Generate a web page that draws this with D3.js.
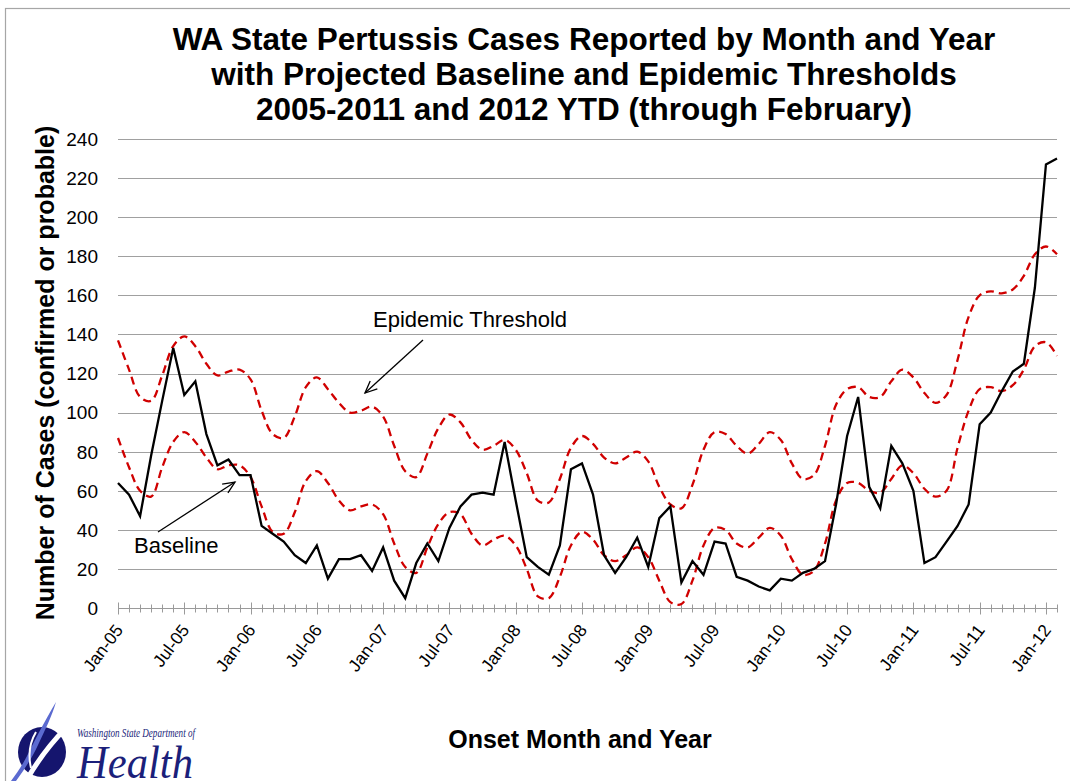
<!DOCTYPE html>
<html>
<head>
<meta charset="utf-8">
<script src="https://cdn.jsdelivr.net/npm/d3@7"></script>
<style>
  html, body { margin: 0; padding: 0; background: #fff; }
  svg { display: block; font-family: "Liberation Sans", Arial, sans-serif; }
</style>
</head>
<body>
<svg id="chart" width="1070" height="781"></svg>
<script>
// ---------------- data ----------------
const years = ["05", "06", "07", "08", "09", "10", "11", "12"];
const monthNames = ["Jan","Feb","Mar","Apr","May","Jun","Jul","Aug","Sep","Oct","Nov","Dec"];
const monthsInLastYear = 2; // 2012 YTD through February

// Reported cases per month, Jan-05 .. Feb-12
const cases = [
  64, 58, 47, 78, 106, 133, 109, 116, 89, 73, 76, 68,
  68, 42, 38, 34, 27, 23, 32, 15, 25, 25, 27, 19,
  31, 14, 5, 23, 33, 24, 41, 52, 58, 59, 58, 85,
  55, 26, 21, 17, 32, 71, 74, 58, 27, 18, 26, 36,
  21, 46, 52, 13, 24, 17, 34, 33, 16, 14, 11, 9,
  15, 14, 18, 20, 24, 53, 88, 108, 62, 51, 83, 74,
  60, 23, 26, 34, 42, 53, 94, 100, 111, 121, 125, 164,
  227, 230
];

// Projected epidemic threshold
const epidemic = [
  137, 122, 108, 106, 119, 134, 139, 134, 125, 119, 121, 122,
  117, 101, 89, 87, 98, 113, 118, 112, 105, 100, 101, 103,
  98, 83, 70, 67, 79, 92, 99, 95, 86, 81, 83, 86,
  81, 69, 55, 54, 66, 82, 88, 84, 77, 74, 77, 80,
  75, 62, 53, 51, 63, 81, 90, 89, 83, 79, 84, 90,
  86, 74, 66, 68, 83, 104, 112, 113, 108, 108, 116, 122,
  118, 110, 105, 109, 127, 149, 160, 162, 161, 163, 170, 181,
  185, 181
];

// Projected baseline
const baseline = [
  87, 72, 60, 57, 72, 85, 90, 85, 77, 71, 73, 73,
  67, 52, 39, 38, 49, 65, 70, 64, 55, 50, 52, 53,
  48, 33, 21, 18, 31, 43, 49, 48, 38, 32, 35, 37,
  32, 20, 6, 5, 16, 32, 39, 35, 27, 24, 27, 31,
  26, 14, 3, 2, 14, 32, 41, 40, 33, 31, 36, 41,
  37, 25, 17, 19, 33, 55, 64, 64, 60, 59, 66, 73,
  69, 61, 57, 60, 82, 101, 112, 113, 111, 114, 122, 134,
  136, 129
];

const yTicks = [0, 20, 40, 60, 80, 100, 120, 140, 160, 180, 200, 220, 240];
const xTickLabels = ["Jan-05","Jul-05","Jan-06","Jul-06","Jan-07","Jul-07","Jan-08",
                     "Jul-08","Jan-09","Jul-09","Jan-10","Jul-10","Jan-11","Jul-11","Jan-12"];

const titleLines = [
  "WA State Pertussis Cases Reported by Month and Year",
  "with Projected Baseline and Epidemic Thresholds",
  "2005-2011 and 2012 YTD (through February)"
];

// categories (month labels)
const categories = [];
years.forEach((yy, yi) => {
  const n = yi === years.length - 1 ? monthsInLastYear : 12;
  for (let m = 0; m < n; m++) categories.push(monthNames[m] + "-" + yy);
});

// ---------------- drawing ----------------
const svg = d3.select("#chart");

// outer border
svg.append("rect")
  .attr("x", 5.5).attr("y", 8.5).attr("width", 1100).attr("height", 800)
  .attr("fill", "#fff").attr("stroke", "#a6a6a6").attr("stroke-width", 1.2);

const x = d3.scalePoint().domain(categories).range([118, 1057]);
const y = d3.scaleLinear().domain([0, 240]).range([608, 139]);

// gridlines
svg.append("g").selectAll("line")
  .data(yTicks.filter(d => d > 0))
  .join("line")
  .attr("x1", 118).attr("x2", 1057)
  .attr("y1", d => Math.round(y(d)) + 0.5).attr("y2", d => Math.round(y(d)) + 0.5)
  .attr("stroke", "#a0a0a0").attr("stroke-width", 1.2);

// y-axis tick labels
svg.append("g").selectAll("text")
  .data(yTicks)
  .join("text")
  .attr("x", 98).attr("y", d => y(d))
  .attr("dy", "0.36em")
  .attr("text-anchor", "end")
  .attr("font-size", 19)
  .attr("fill", "#000")
  .text(d => d);

// x axis line and ticks
const axisY = Math.round(y(0)) + 0.5;
svg.append("line")
  .attr("x1", 118).attr("x2", 1057).attr("y1", axisY).attr("y2", axisY)
  .attr("stroke", "#9a9a9a").attr("stroke-width", 1.2);

svg.append("g").selectAll("line")
  .data(categories)
  .join("line")
  .attr("x1", d => Math.round(x(d)) + 0.5).attr("x2", d => Math.round(x(d)) + 0.5)
  .attr("y1", d => xTickLabels.includes(d) ? axisY - 6 : axisY - 4)
  .attr("y2", d => xTickLabels.includes(d) ? axisY + 6 : axisY + 4)
  .attr("stroke", "#9a9a9a").attr("stroke-width", 1);

// x tick labels
svg.append("g").selectAll("text")
  .data(xTickLabels)
  .join("text")
  .attr("transform", d => `translate(${x(d) + 1},${axisY + 18}) rotate(-53)`)
  .attr("text-anchor", "end")
  .attr("dy", "0.35em")
  .attr("font-size", 17.5)
  .attr("fill", "#000")
  .text(d => d);

// series
const smooth = d3.line()
  .x((d, i) => x(categories[i]))
  .y(d => y(d))
  .curve(d3.curveCatmullRom.alpha(0.5));

const straight = d3.line()
  .x((d, i) => x(categories[i]))
  .y(d => y(d));

svg.append("path")
  .datum(epidemic)
  .attr("d", smooth)
  .attr("fill", "none")
  .attr("stroke", "#d00000")
  .attr("stroke-width", 2.3)
  .attr("stroke-dasharray", "8,5");

svg.append("path")
  .datum(baseline)
  .attr("d", smooth)
  .attr("fill", "none")
  .attr("stroke", "#d00000")
  .attr("stroke-width", 2.3)
  .attr("stroke-dasharray", "8,5");

svg.append("path")
  .datum(cases)
  .attr("d", straight)
  .attr("fill", "none")
  .attr("stroke", "#000")
  .attr("stroke-width", 2.3)
  .attr("stroke-linejoin", "miter");

// title
svg.append("g").selectAll("text")
  .data(titleLines)
  .join("text")
  .attr("x", 584)
  .attr("y", (d, i) => 50 + i * 35)
  .attr("text-anchor", "middle")
  .attr("font-size", 31.5)
  .attr("font-weight", "bold")
  .attr("fill", "#000")
  .text(d => d);

// axis titles
svg.append("text")
  .attr("transform", "translate(54,373) rotate(-90)")
  .attr("text-anchor", "middle")
  .attr("font-size", 25)
  .attr("font-weight", "bold")
  .text("Number of Cases (confirmed or probable)");

svg.append("text")
  .attr("x", 580).attr("y", 748)
  .attr("text-anchor", "middle")
  .attr("font-size", 25)
  .attr("font-weight", "bold")
  .text("Onset Month and Year");

// annotations
function arrow(x1, y1, x2, y2) {
  const g = svg.append("g").attr("stroke", "#000").attr("stroke-width", 1.3).attr("fill", "none");
  g.append("line").attr("x1", x1).attr("y1", y1).attr("x2", x2).attr("y2", y2);
  const ang = Math.atan2(y2 - y1, x2 - x1);
  const L = 13, spread = 0.42;
  const p1 = [x2 - L * Math.cos(ang - spread), y2 - L * Math.sin(ang - spread)];
  const p2 = [x2 - L * Math.cos(ang + spread), y2 - L * Math.sin(ang + spread)];
  g.append("path").attr("d", `M${p1[0]},${p1[1]} L${x2},${y2} L${p2[0]},${p2[1]}`);
}

svg.append("text")
  .attr("x", 373).attr("y", 327)
  .attr("font-size", 22)
  .text("Epidemic Threshold");
arrow(423, 340, 365, 393);

svg.append("text")
  .attr("x", 134).attr("y", 553)
  .attr("font-size", 22)
  .text("Baseline");
arrow(158, 532, 235, 482);

// logo (Washington State Department of Health)
const logo = svg.append("g");
logo.append("ellipse")
  .attr("cx", 42).attr("cy", 752).attr("rx", 24).attr("ry", 25)
  .attr("fill", "#15156e");
logo.append("path")
  .attr("d", "M66,728 C52,742 38,760 26,781")
  .attr("stroke", "#fff").attr("stroke-width", 5).attr("fill", "none");
logo.append("path")
  .attr("d", "M56,702 C44,722 34,742 27,756 C22,766 16,774 11,781 L16,781 C24,770 32,758 38,745 C45,730 52,716 56,702 Z")
  .attr("fill", "#5b6ad0");
logo.append("path")
  .attr("d", "M36,732 C30,742 28,755 31,768")
  .attr("stroke", "#fff").attr("stroke-width", 2).attr("fill", "none");

logo.append("text")
  .attr("x", 77).attr("y", 737)
  .attr("font-family", "Liberation Serif, serif")
  .attr("font-style", "italic")
  .attr("font-size", 12)
  .attr("textLength", 118)
  .attr("lengthAdjust", "spacingAndGlyphs")
  .attr("fill", "#1b1f7a")
  .text("Washington State Department of");

logo.append("text")
  .attr("x", 77).attr("y", 778)
  .attr("font-family", "Liberation Serif, serif")
  .attr("font-style", "italic")
  .attr("font-size", 46)
  .attr("textLength", 116)
  .attr("lengthAdjust", "spacingAndGlyphs")
  .attr("fill", "#1b1f7a")
  .text("Health");
</script>
</body>
</html>
